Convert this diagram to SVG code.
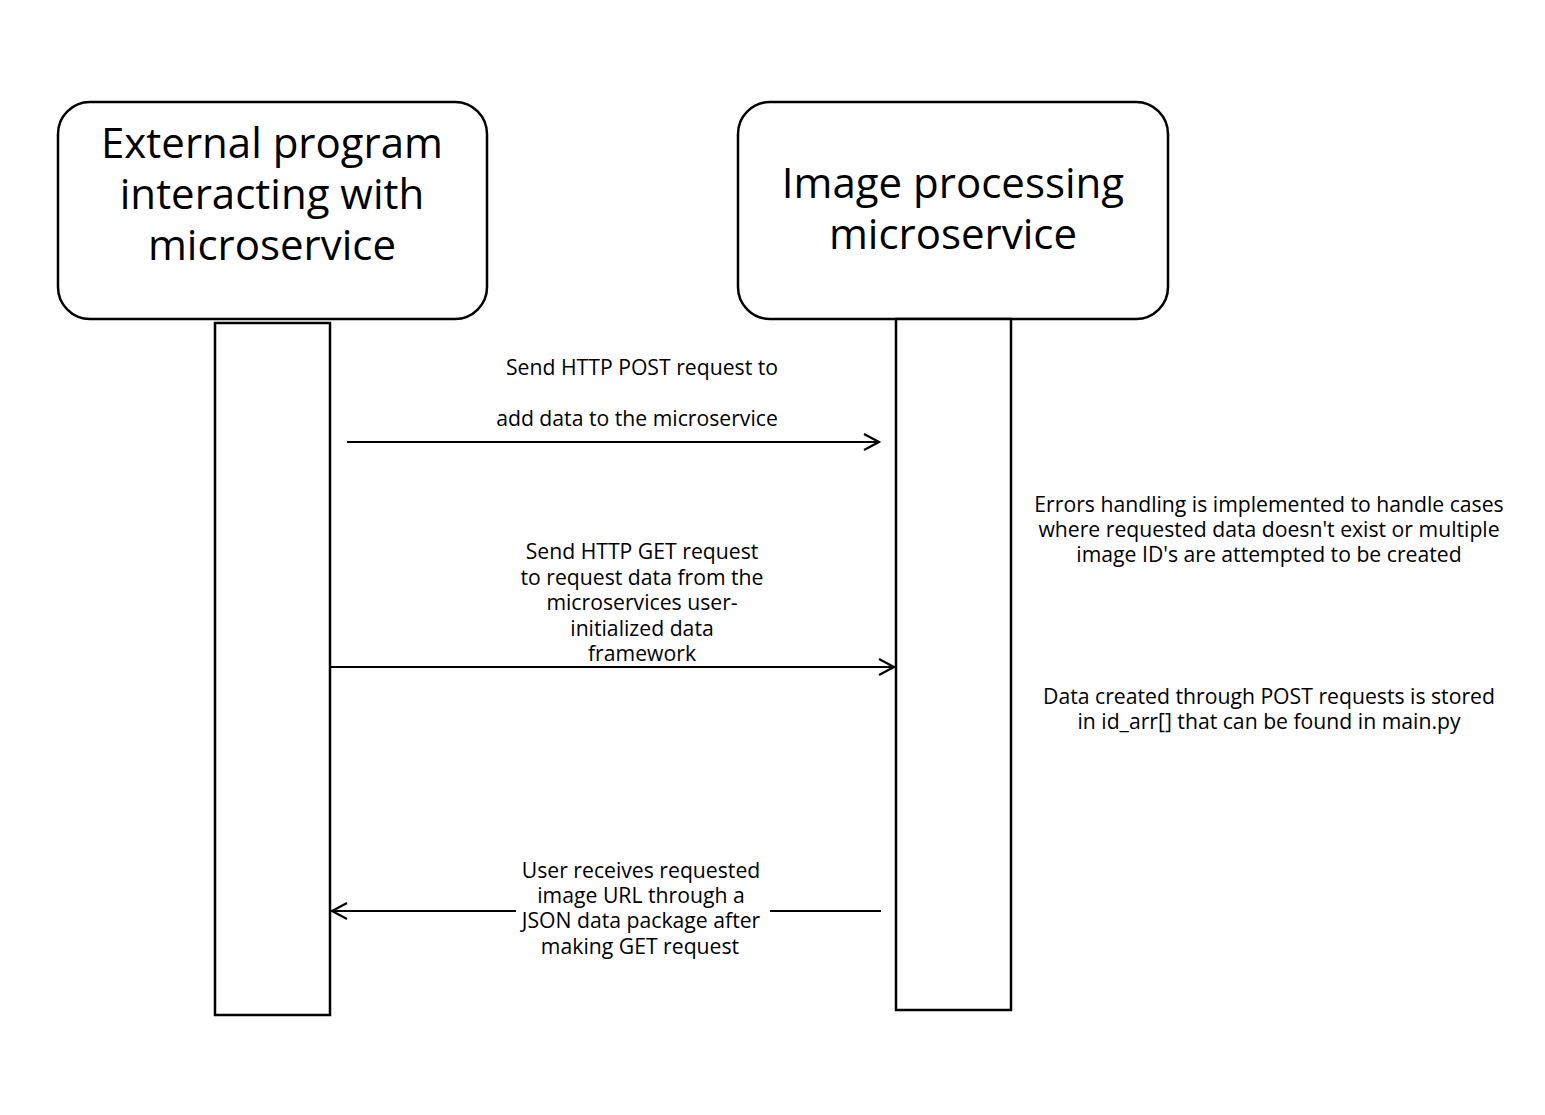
<svg xmlns="http://www.w3.org/2000/svg" width="1545" height="1115" viewBox="0 0 1545 1115">
<style>
.box{fill:#fff;stroke:#000;stroke-width:2.5}
.life{fill:#fff;stroke:#000;stroke-width:2.5}
.title{font-family:"Open Sans","Liberation Sans",sans-serif;font-size:42px;fill:#000;text-anchor:middle}
.lbl{font-family:"Open Sans","Liberation Sans",sans-serif;font-size:21.2px;fill:#000;text-anchor:middle}
.conn{stroke:#000;stroke-width:2.2;fill:none}
</style>
<defs>
<marker id="arr" markerWidth="20" markerHeight="20" refX="17" refY="10" orient="auto" markerUnits="userSpaceOnUse">
<path d="M2,2 L17,10 L2,18" fill="none" stroke="#000" stroke-width="2.2"/>
</marker>
</defs>
<rect width="1545" height="1115" fill="#fff"/>
<g id="node-external">
<rect class="box" x="58" y="102" width="429" height="217" rx="32"/>
<text class="title" x="272" y="158">External program</text>
<text class="title" x="272" y="209">interacting with</text>
<text class="title" x="272" y="260">microservice</text>
</g>
<g id="node-image">
<rect class="box" x="738" y="102" width="430" height="217" rx="32"/>
<text class="title" x="953" y="198">Image processing</text>
<text class="title" x="953" y="249">microservice</text>
</g>
<g id="lifeline-external">
<rect class="life" x="215" y="323" width="115" height="692"/>
</g>
<g id="lifeline-image">
<rect class="life" x="896" y="319" width="115" height="691"/>
</g>
<g id="connectors">
<line class="conn" x1="347" y1="442" x2="879" y2="442" marker-end="url(#arr)"/>
<line class="conn" x1="330" y1="667" x2="894" y2="667" marker-end="url(#arr)"/>
<line class="conn" x1="881" y1="911" x2="332" y2="911" marker-end="url(#arr)"/>
<rect x="516" y="888" width="254" height="42" fill="#fff"/>
</g>
<g id="labels">
<text class="lbl" x="642" y="375">Send HTTP POST request to</text>
<text class="lbl" x="637" y="426">add data to the microservice</text>
<text class="lbl" x="642" y="559">Send HTTP GET request</text>
<text class="lbl" x="642" y="585">to request data from the</text>
<text class="lbl" x="642" y="610">microservices user-</text>
<text class="lbl" x="642" y="636">initialized data</text>
<text class="lbl" x="642" y="661">framework</text>
<text class="lbl" x="641" y="878">User receives requested</text>
<text class="lbl" x="641" y="903">image URL through a</text>
<text class="lbl" x="641" y="928">JSON data package after</text>
<text class="lbl" x="640" y="954">making GET request</text>
<text class="lbl" x="1269" y="512">Errors handling is implemented to handle cases</text>
<text class="lbl" x="1269" y="537">where requested data doesn't exist or multiple</text>
<text class="lbl" x="1269" y="562">image ID's are attempted to be created</text>
<text class="lbl" x="1269" y="704">Data created through POST requests is stored</text>
<text class="lbl" x="1269" y="729">in id_arr[] that can be found in main.py</text>
</g>
</svg>
